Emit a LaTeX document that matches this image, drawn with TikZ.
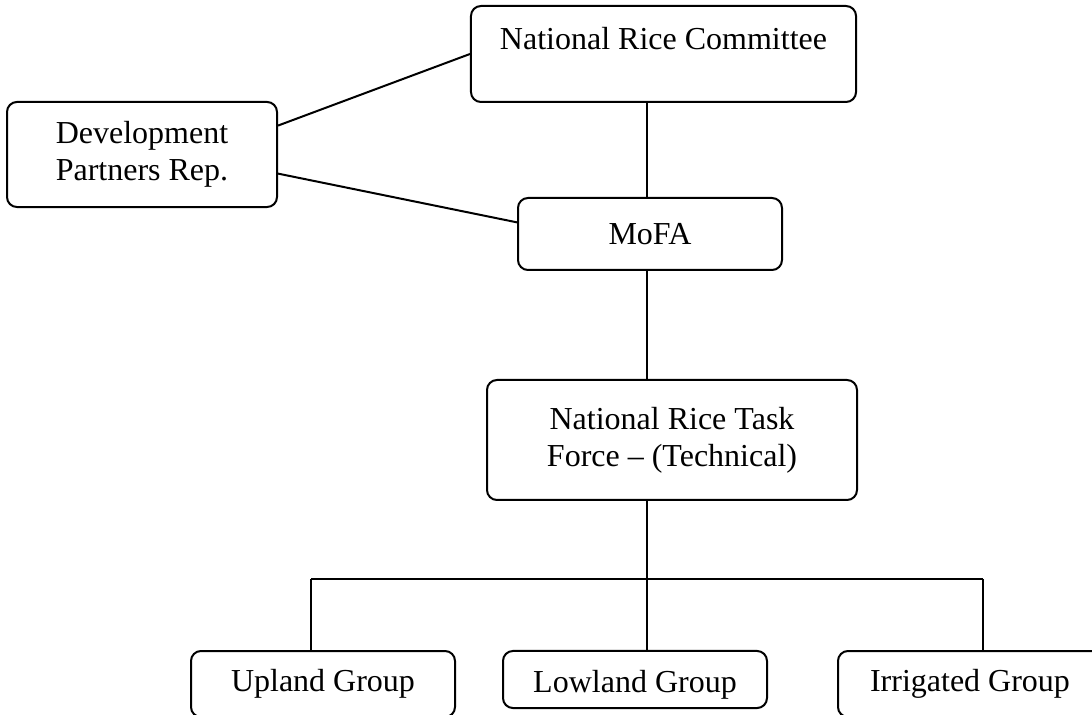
\documentclass[tikz,border=0pt]{standalone}
\usepackage{fontspec}
\setmainfont{Liberation Serif}

\begin{document}
\begin{tikzpicture}[x=0.375pt, y=-0.375pt, line width=0.75pt,
  unitbox/.style={draw, rounded corners=3.75pt, inner sep=0pt, align=center, font=\fontsize{12}{13.8}\selectfont}]
	\useasboundingbox (0,0) rectangle (1092,715);
	\clip (0,0) rectangle (1092,715);
	\node[unitbox, minimum width=144.4pt, minimum height=36pt, text height=9pt, text depth=12pt] (nrc) at (663.5,54) {National Rice Committee};
	\node[unitbox, minimum width=101.25pt, minimum height=39.4pt] (dpr) at (142,154.5) {Development\\Partners Rep.};
	\node[unitbox, minimum width=99pt, minimum height=27pt] (mofa) at (650,234) {MoFA};
	\node[unitbox, minimum width=138.75pt, minimum height=45pt] (nrtf) at (672,440) {National Rice Task\\Force -- (Technical)};
	\node[unitbox, minimum width=99pt, minimum height=24.75pt] (upland) at (323,684) {Upland Group};
	\node[unitbox, minimum width=99pt, minimum height=21.4pt, text height=12pt, text depth=2.6pt] (lowland) at (635,679.5) {Lowland Group};
	\node[unitbox, minimum width=99pt, minimum height=24.75pt] (irrigated) at (970,684) {Irrigated Group};
	\coordinate (busL) at (311,579);
	\coordinate (busM) at (647,579);
	\coordinate (busR) at (983,579);
	\draw (dpr.12) -- (nrc.west);
	\draw (dpr.-8) -- (mofa.175);
	\draw (mofa.north -| busM) -- (nrc.south -| busM);
	\draw (mofa.south -| busM) -- (nrtf.north -| busM);
	\draw (nrtf.south -| busM) -- (busM);
	\draw (busL) -- (busR);
	\draw (busL) -- (upland.north -| busL);
	\draw (busM) -- (lowland.north -| busM);
	\draw (busR) -- (irrigated.north -| busR);
\end{tikzpicture}
\end{document}
